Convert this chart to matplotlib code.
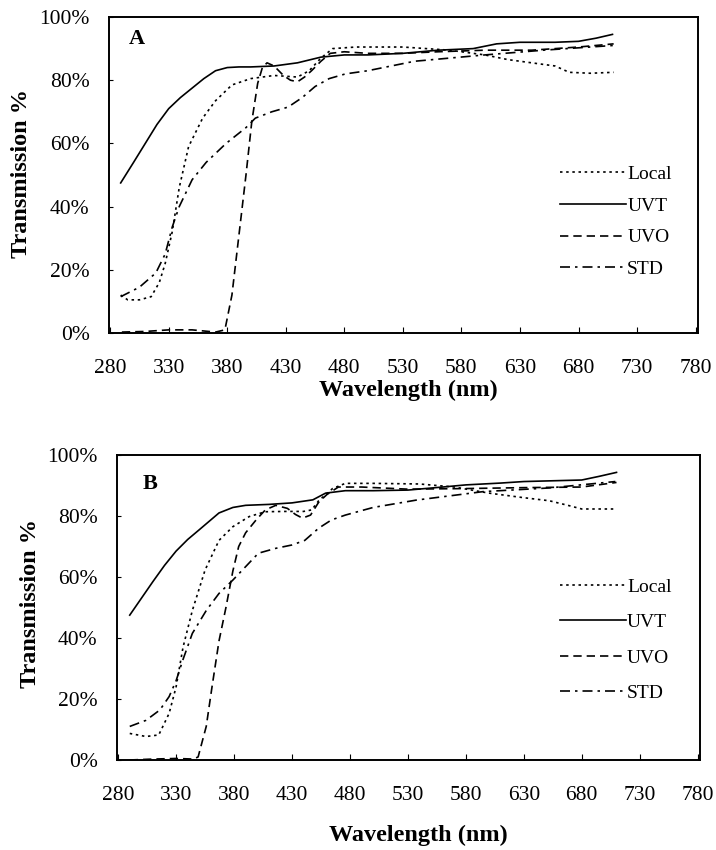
import matplotlib
matplotlib.use("Agg")
import matplotlib.pyplot as plt

plt.rcParams['font.family'] = ['Liberation Serif', 'DejaVu Serif']

# Panel A data (wavelength nm, transmission %)
a_uvt_wl = [289, 300, 310, 320, 330, 340, 350, 360, 370, 380, 390, 400, 420, 440, 460, 480, 500, 530, 560, 590, 610, 630, 660, 680, 695, 709]
a_uvt_t = [47.5, 54, 60, 66, 71, 74.5, 77.5, 80.5, 83, 84, 84.2, 84.2, 84.5, 85.5, 87.3, 88, 88, 88.5, 89.5, 90, 91.5, 92, 92, 92.3, 93.3, 94.5]

a_local_wl = [289, 295, 305, 315, 322, 327, 333, 339, 347, 359, 370, 384, 400, 420, 440, 450, 460, 470, 490, 530, 570, 600, 620, 640, 660, 672, 690, 710]
a_local_t = [12, 10.5, 10.5, 11.5, 16, 22, 32, 46, 59, 68, 73.5, 78.5, 80.5, 81.5, 81, 83, 87, 90, 90.5, 90.5, 89.5, 88, 86.5, 85.5, 84.5, 82.5, 82.2, 82.5]

a_uvo_wl = [290, 310, 330, 350, 370, 378, 384, 390, 396, 401, 406, 410, 414, 420, 428, 434, 440, 446, 452, 460, 468, 480, 500, 530, 560, 600, 640, 680, 710]
a_uvo_t = [0.3, 0.5, 1, 1, 0.3, 1, 12, 31, 50, 67, 79, 84, 85.5, 84.5, 81.5, 80, 79.5, 81, 83, 86, 88.5, 89, 88.5, 88.5, 89, 89.5, 89.5, 90.5, 91.5]

a_std_wl = [289, 305, 319, 327, 333, 339, 350, 362, 379, 396, 404, 418, 432, 444, 455, 467, 481, 500, 540, 600, 650, 710]
a_std_t = [11.5, 14.5, 19, 25, 33.5, 40, 48.5, 54, 60, 65, 68, 70, 71.5, 74.5, 78, 80.5, 82, 83, 86, 88, 89.5, 91]

# Panel B data
b_uvt_wl = [290, 300, 310, 320, 330, 340, 350, 367, 379, 390, 410, 430, 448, 459, 476, 500, 530, 560, 580, 610, 630, 660, 680, 695, 710]
b_uvt_t = [47.5, 53, 58.5, 63.8, 68.5, 72.3, 75.5, 81, 82.8, 83.5, 83.8, 84.3, 85.3, 87.5, 88.3, 88.3, 88.5, 89.5, 90.2, 90.8, 91.3, 91.6, 91.8, 93, 94.3]

b_local_wl = [290, 304, 315, 324, 330, 336, 344, 355, 367, 379, 393, 407, 424, 440, 447, 453, 465, 476, 500, 540, 570, 600, 630, 652, 668, 680, 710]
b_local_t = [8.7, 7.7, 8.2, 15.3, 24, 37, 49, 62.3, 72, 76.5, 79.8, 81.4, 81.5, 81.5, 82, 85, 89, 90.7, 90.7, 90.5, 89.5, 87.5, 86, 85, 83.5, 82.3, 82.3]

b_uvo_wl = [290, 310, 330, 345, 349, 356, 361, 367, 373, 379, 384, 390, 399, 407, 416, 426, 433, 439, 446, 453, 460, 470, 490, 530, 580, 630, 680, 710]
b_uvo_t = [0, 0.3, 0.5, 0.3, 1, 11, 24, 39, 50, 62, 70, 74.5, 78.7, 82, 83.5, 82.5, 80.5, 79.3, 80.3, 84.5, 87, 89.5, 89.5, 88.8, 89, 89.3, 89.5, 91]

b_std_wl = [290, 304, 316, 324, 330, 336, 344, 356, 367, 379, 390, 401, 416, 430, 441, 453, 464, 476, 500, 537, 595, 652, 709]
b_std_t = [11, 13, 16.4, 20.8, 26, 33, 41.5, 49, 54.6, 59, 63.4, 67.8, 69.4, 70.5, 72, 76, 78.7, 80.3, 82.8, 85.2, 88, 89.2, 91.3]

x_ticks = [280, 330, 380, 430, 480, 530, 580, 630, 680, 730, 780]
y_ticks = [0, 20, 40, 60, 80, 100]
y_labels = ['0%', '20%', '40%', '60%', '80%', '100%']

fig = plt.figure(figsize=(7.16, 8.5), dpi=100)
ax_a = fig.add_axes([0.1522, 0.6082, 0.8226, 0.3718])
ax_b = fig.add_axes([0.1634, 0.1059, 0.8142, 0.3588])


def draw_panel(ax, local, uvt, uvo, std, letter, letter_pos, leg_anchor, leg_spacing):
    ax.plot(local[0], local[1], color='black', lw=1.2, dashes=(1.5, 2.2), label='Local')
    ax.plot(uvt[0], uvt[1], color='black', lw=1.2, label='UVT')
    ax.plot(uvo[0], uvo[1], color='black', lw=1.2, dashes=(5, 3), label='UVO')
    ax.plot(std[0], std[1], color='black', lw=1.2, dashes=(6, 3, 1.5, 3), label='STD')
    ax.set_xlim(279, 782)
    ax.set_ylim(0, 100)
    ax.set_xticks(x_ticks)
    ax.set_yticks(y_ticks)
    ax.set_yticklabels(y_labels)
    ax.tick_params(axis='x', direction='in', length=4, pad=19, labelsize=15.5)
    ax.tick_params(axis='y', direction='in', length=3, pad=14, labelsize=15.5)
    for s in ax.spines.values():
        s.set_linewidth(1.4)
    ax.text(letter_pos[0], letter_pos[1], letter, transform=ax.transAxes,
            fontsize=16, fontweight='bold', ha='center', va='center')
    ax.legend(loc='upper left', bbox_to_anchor=leg_anchor, frameon=False,
              fontsize=14, handlelength=3.4, handletextpad=0.05,
              labelspacing=leg_spacing, borderpad=0, borderaxespad=0)


draw_panel(ax_a, (a_local_wl, a_local_t), (a_uvt_wl, a_uvt_t), (a_uvo_wl, a_uvo_t),
           (a_std_wl, a_std_t), 'A', (0.0475, 0.930), (0.766, 0.530), 0.72)
draw_panel(ax_b, (b_local_wl, b_local_t), (b_uvt_wl, b_uvt_t), (b_uvo_wl, b_uvo_t),
           (b_std_wl, b_std_t), 'B', (0.0566, 0.905), (0.760, 0.597), 0.92)

# axis titles
fig.text(408 / 716, 1 - 390 / 850, 'Wavelength (nm)', fontsize=17.5, fontweight='bold', ha='center', va='center')
fig.text(418 / 716, 1 - 835 / 850, 'Wavelength (nm)', fontsize=17.5, fontweight='bold', ha='center', va='center')
fig.text(22 / 716, 1 - 173 / 850, 'Transmission %', fontsize=17.5, fontweight='bold', rotation=90, ha='center', va='center')
fig.text(31 / 716, 1 - 603 / 850, 'Transmission %', fontsize=17.5, fontweight='bold', rotation=90, ha='center', va='center')

fig.savefig('out.png', dpi=100)
